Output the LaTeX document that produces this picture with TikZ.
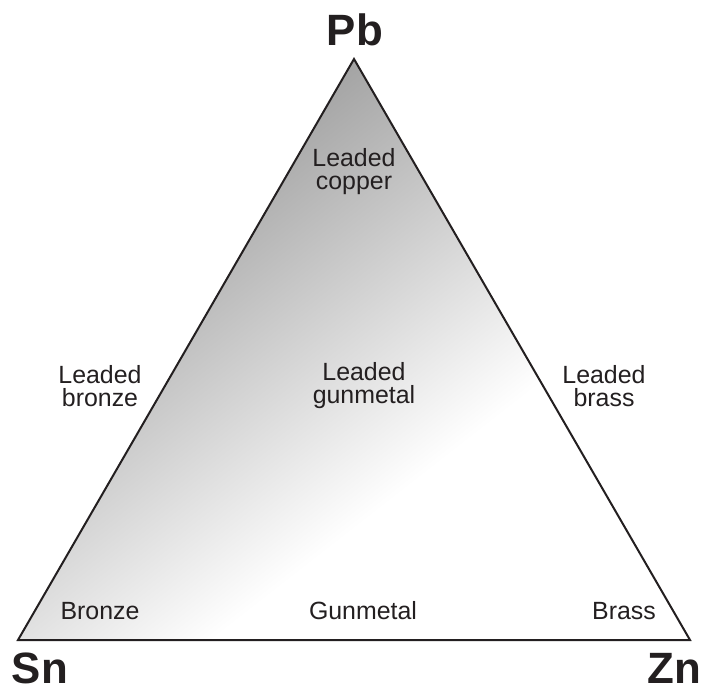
\documentclass[tikz,border=0pt]{standalone}
\usepackage{fontspec}
\setmainfont{Liberation Sans}
\usetikzlibrary{positioning}
\definecolor{inkgray}{RGB}{35,31,32}
\definecolor{leadgray}{RGB}{163,163,163}

\begin{document}
\begin{tikzpicture}[x=0.5bp, y=0.5bp, font=\fontsize{12.5}{11.5}\selectfont, text=inkgray]
  \tikzset{alloy/.style={align=center, inner sep=0pt},
           metal/.style={font=\fontsize{22}{22}\selectfont\bfseries, inner sep=0pt}}
  \useasboundingbox (0,0) rectangle (709,-691);

  % Vertices
  \coordinate (apex) at (354,-59);
  \coordinate (snc) at (18,-640);
  \coordinate (znc) at (690,-640);

  % Shaded triangle
  \begin{scope}
    \clip (apex) -- (snc) -- (znc) -- cycle;
    \shade[top color=leadgray, bottom color=white, transform canvas={rotate=38}] (-500,-635) rectangle (400,-262);
  \end{scope}
  \draw[inkgray, line width=1bp] (apex) -- (snc) -- (znc) -- cycle;

  % Metals
  \node[metal] (pb) at (355,-30) {Pb};
  \node[metal] (sn) at (40,-668) {Sn};
  \node[metal] (zn) at (674,-668) {Zn};

  % Leaded alloys
  \node[alloy] (lcopper) at (354,-172) {Leaded\\copper};
  \node[alloy] (lbronze) at (100,-386) {Leaded\\bronze};
  \node[alloy] (lgunmetal) at (364,-386) {Leaded\\gunmetal};
  \node[alloy] (lbrass) at (604,-386) {Leaded\\brass};

  % Unleaded alloys
  \node[alloy] (bronze) at (100,-611) {Bronze};
  \node[alloy] (gunmetal) at (363,-611) {Gunmetal};
  \node[alloy] (brass) at (624,-611) {Brass};
\end{tikzpicture}
\end{document}
